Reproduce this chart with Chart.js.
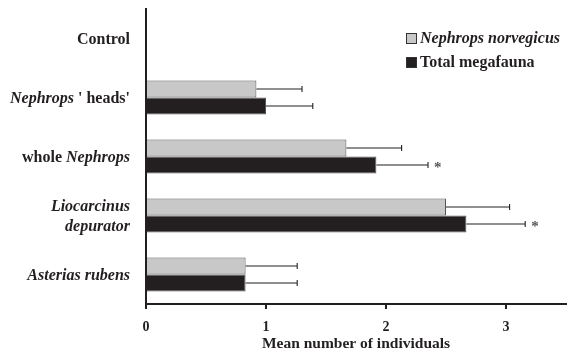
<!DOCTYPE html>
<html>
<head>
<meta charset="utf-8">
<script src="https://cdn.jsdelivr.net/npm/chart.js@4"></script>
<style>
  html, body { margin: 0; padding: 0; background: #ffffff; }
  #wrap { width: 569px; height: 353px; }
</style>
</head>
<body>
<div id="wrap"><canvas id="chart" width="569" height="353"></canvas></div>
<script>
// Treatments (bait types) on the category axis
const categories = ['Control', "Nephrops ' heads'", 'whole Nephrops', 'Liocarcinus depurator', 'Asterias rubens'];
// Label lines as [text, italic] runs
const categoryLines = [
  [[['Control', false]]],
  [[['Nephrops', true], [" ' heads'", false]]],
  [[['whole ', false], ['Nephrops', true]]],
  [[['Liocarcinus', true]], [['depurator', true]]],
  [[['Asterias rubens', true]]]
];

// Mean number of individuals and standard errors
const nephropsMean = [null, 0.92, 1.67, 2.50, 0.83];
const nephropsErr  = [null, 0.38, 0.46, 0.53, 0.43];
const totalMean    = [null, 1.00, 1.92, 2.67, 0.83];
const totalErr     = [null, 0.39, 0.43, 0.49, 0.43];
const significance = ['', '', '*', '*', ''];   // marks on total megafauna

const seriesNames  = ['Nephrops norvegicus', 'Total megafauna'];
const seriesItalic = [true, false];

const xTicks = [0, 1, 2, 3];
const xTitle = 'Mean number of individuals';

const INK = '#231f20';
const SERIF = '"Liberation Serif", "Times New Roman", serif';

const errors = [nephropsErr, totalErr];
const marks = [null, significance];

const overlay = {
  id: 'overlay',
  afterDatasetsDraw(chart) {
    const ctx = chart.ctx;
    const xs = chart.scales.x;
    const ys = chart.scales.y;
    ctx.save();
    // error bars and significance marks
    chart.data.datasets.forEach((ds, di) => {
      const meta = chart.getDatasetMeta(di);
      meta.data.forEach((bar, i) => {
        const v = ds.data[i];
        const e = errors[di][i];
        if (v == null || e == null) return;
        const x0 = xs.getPixelForValue(v);
        const x1 = xs.getPixelForValue(v + e);
        const y = bar.y;
        ctx.strokeStyle = INK;
        ctx.lineWidth = 1.1;
        ctx.beginPath();
        ctx.moveTo(x0, y);
        ctx.lineTo(x1, y);
        ctx.moveTo(x1, y - 3);
        ctx.lineTo(x1, y + 3);
        ctx.stroke();
        if (marks[di] && marks[di][i]) {
          ctx.fillStyle = '#555';
          ctx.font = 'bold 15px ' + SERIF;
          ctx.textAlign = 'left';
          ctx.textBaseline = 'middle';
          ctx.fillText(marks[di][i], x1 + 6, y + 3);
        }
      });
    });

    // category labels with mixed styles
    ctx.fillStyle = INK;
    ctx.textBaseline = 'middle';
    const lineH = 20;
    categoryLines.forEach((lines, i) => {
      const cy = ys.getPixelForValue(i) + 1;
      lines.forEach((runs, li) => {
        const y = cy + (li - (lines.length - 1) / 2) * lineH;
        let total = 0;
        runs.forEach(([t, it]) => {
          ctx.font = (it ? 'italic ' : '') + 'bold 16px ' + SERIF;
          total += ctx.measureText(t).width;
        });
        let x = 130 - total;
        runs.forEach(([t, it]) => {
          ctx.font = (it ? 'italic ' : '') + 'bold 16px ' + SERIF;
          ctx.textAlign = 'left';
          ctx.fillText(t, x, y);
          x += ctx.measureText(t).width;
        });
      });
    });

    // legend
    chart.data.datasets.forEach((ds, di) => {
      const bx = 406, by = 33 + di * 24;
      ctx.fillStyle = ds.backgroundColor;
      ctx.fillRect(bx, by, 11, 11);
      ctx.strokeStyle = '#333';
      ctx.lineWidth = 1;
      ctx.strokeRect(bx + 0.5, by + 0.5, 10, 10);
      ctx.fillStyle = INK;
      ctx.font = (seriesItalic[di] ? 'italic ' : '') + 'bold 16px ' + SERIF;
      ctx.textAlign = 'left';
      ctx.textBaseline = 'middle';
      ctx.fillText(ds.label, bx + 14, by + 6);
    });
    ctx.restore();
  }
};

new Chart(document.getElementById('chart'), {
  type: 'bar',
  data: {
    labels: categories,
    datasets: [
      {
        label: seriesNames[0],
        data: nephropsMean,
        backgroundColor: '#c8c8c8',
        borderColor: '#555555',
        borderWidth: 1,
        borderSkipped: 'start'
      },
      {
        label: seriesNames[1],
        data: totalMean,
        backgroundColor: INK,
        borderColor: '#555555',
        borderWidth: 1,
        borderSkipped: 'start'
      }
    ]
  },
  options: {
    indexAxis: 'y',
    responsive: false,
    animation: false,
    layout: { padding: { top: 9, right: 3, left: 0, bottom: 0 } },
    datasets: { bar: { categoryPercentage: 0.576, barPercentage: 1 } },
    plugins: {
      legend: { display: false },
      tooltip: { enabled: false }
    },
    scales: {
      y: {
        type: 'category',
        ticks: { display: false },
        grid: { display: false },
        border: { display: true, color: INK, width: 2 },
        afterFit(s) { s.width = 146; }
      },
      x: {
        type: 'linear',
        min: 0,
        max: 3.5,
        afterBuildTicks(s) { s.ticks = xTicks.map(v => ({ value: v })); },
        afterFit(s) { s.height = 49; },
        ticks: {
          color: INK,
          padding: 10,
          font: { family: SERIF, size: 14, weight: 'bold' }
        },
        grid: {
          drawOnChartArea: false,
          drawTicks: true,
          tickLength: 5,
          color: INK,
          lineWidth: 2
        },
        border: { display: true, color: INK, width: 2 },
        title: {
          display: true,
          text: xTitle,
          color: INK,
          padding: { top: 1, bottom: 0 },
          font: { family: SERIF, size: 15.5, weight: 'bold' }
        }
      }
    }
  },
  plugins: [overlay]
});
</script>
</body>
</html>
